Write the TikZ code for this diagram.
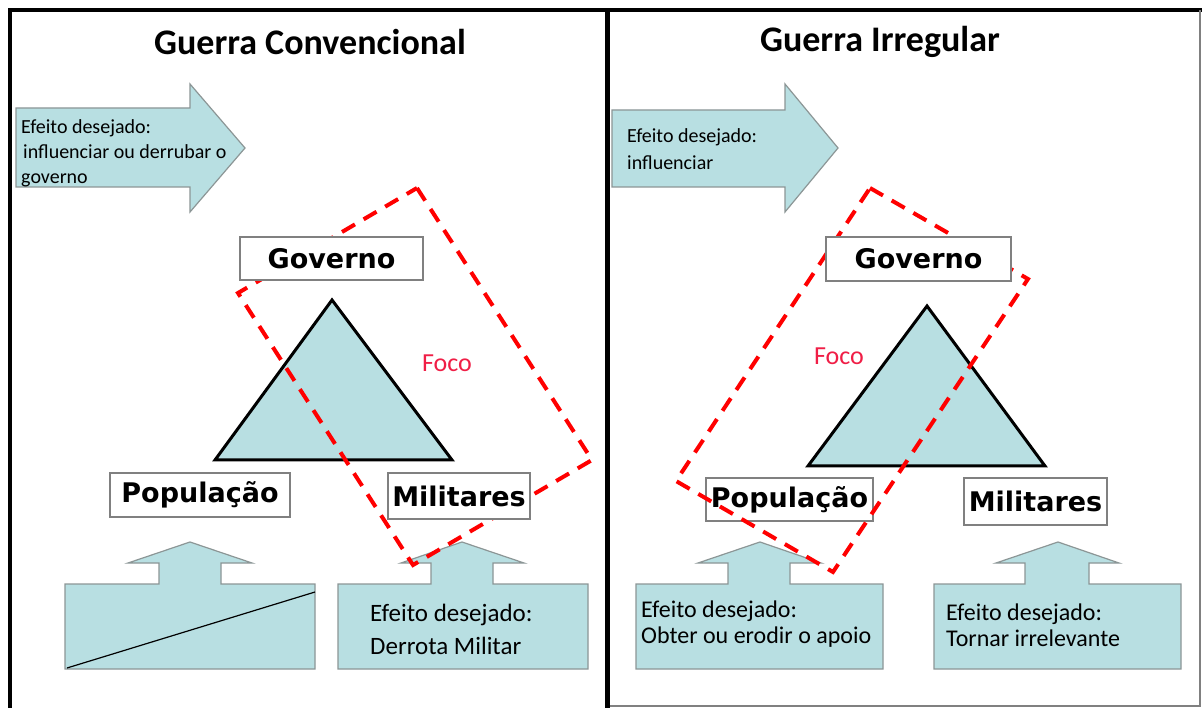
\documentclass[tikz,border=0pt]{standalone}
\usepackage{fontspec}
\setmainfont{Carlito}
\newfontfamily\boxfont{DejaVu Sans}
\definecolor{fillteal}{RGB}{184,223,226}
\definecolor{arrowgray}{RGB}{140,150,150}
\definecolor{boxgray}{RGB}{128,128,128}
\definecolor{focored}{RGB}{240,30,70}
\tikzstyle{actor} = [rectangle, draw=boxgray, line width=1.5pt, fill=white, inner sep=0pt, text centered, font=\boxfont\bfseries\fontsize{27}{30}\selectfont]
\tikzstyle{title} = [anchor=base, inner sep=0pt, font=\bfseries\fontsize{36}{40}\selectfont]
\tikzstyle{blockarrow} = [fill=fillteal, draw=arrowgray, line width=1.2pt]
\tikzstyle{triad} = [fill=fillteal, draw=black, line width=3pt]
\tikzstyle{focus} = [draw=red, line width=4pt, dash pattern=on 15pt off 10pt]
\tikzstyle{effect} = [anchor=west, align=left, inner sep=0pt]
\tikzstyle{focolabel} = [text=focored, font=\fontsize{26}{30}\selectfont]

\begin{document}
\begin{tikzpicture}[x=1pt, y=-1pt]
      \useasboundingbox [fill=white] (0,0) rectangle (1203,708);

      % frames
      \draw [line width=4pt] (10,712) -- (10,10) -- (1202,10);
      \draw [line width=5pt] (607,10) -- (607,712);
      \draw [draw=gray, line width=2pt] (1200,10) -- (1200,706) -- (610,706);

      \node (conv) [title] at (310,55) {Guerra Convencional};
      \node (irreg) [title] at (880,52) {Guerra Irregular};

      % left panel
      \draw [blockarrow] (16,108) -- (190,108) -- (190,84) -- (245,148) -- (190,212) -- (190,187) -- (16,187) -- cycle;
      \node (efeito1) [effect, font=\fontsize{20}{25}\selectfont] at (21,153) {Efeito desejado:\\\hspace*{2pt}influenciar ou derrubar o\\governo};

      \draw [triad] (332,300) -- (452,460) -- (215,460) -- cycle;

      \draw [blockarrow] (65,669) -- (65,584) -- (159,584) -- (159,563) -- (128,563) -- (190,542) -- (252,563) -- (221,563) -- (221,584) -- (315,584) -- (315,669) -- cycle;
      \draw [line width=1.2pt] (67,668) -- (315,592);
      \draw [blockarrow] (338,669) -- (338,584) -- (431,584) -- (431,563) -- (401,563) -- (462,542) -- (524,563) -- (493,563) -- (493,584) -- (588,584) -- (588,669) -- cycle;
      \node (efeito2) [effect, font=\fontsize{25}{33}\selectfont] at (370,629) {Efeito desejado:\\Derrota Militar};

      \draw [focus] (417,188) -- (592,460) -- (413,565) -- (238,293) -- cycle;
      \node (foco1) [focolabel] at (447,363) {Foco};

      \node (gov1) [actor, minimum width=183pt, minimum height=43pt] at (331.5,258.5) {Governo};
      \node (pop1) [actor, minimum width=180pt, minimum height=44pt] at (200,495) {População};
      \node (mil1) [actor, minimum width=142pt, minimum height=46pt] at (459,496) {Militares};

      % right panel
      \draw [blockarrow] (612,110) -- (785,110) -- (785,84) -- (838,148) -- (785,212) -- (785,187) -- (612,187) -- cycle;
      \node (efeito3) [effect, font=\fontsize{20}{27}\selectfont] at (627,149) {Efeito desejado:\\influenciar};

      \draw [triad] (927,306) -- (1045,466) -- (808,466) -- cycle;

      \draw [blockarrow] (636,669) -- (636,584) -- (728,584) -- (728,563) -- (698,563) -- (760,542) -- (821,563) -- (790,563) -- (790,584) -- (883,584) -- (883,669) -- cycle;
      \node (efeito4) [effect, font=\fontsize{24}{26}\selectfont] at (641,624) {Efeito desejado:\\Obter ou erodir o apoio};
      \draw [blockarrow] (934,669) -- (934,584) -- (1025,584) -- (1025,563) -- (996,563) -- (1058,542) -- (1119,563) -- (1089,563) -- (1089,584) -- (1181,584) -- (1181,669) -- cycle;
      \node (efeito5) [effect, font=\fontsize{24}{26}\selectfont] at (946,625) {Efeito desejado:\\Tornar irrelevante};

      \node (pop2) [actor, minimum width=167pt, minimum height=43pt] at (789.5,499.5) {População};
      \node (mil2) [actor, minimum width=143pt, minimum height=47pt] at (1035.5,501.5) {Militares};

      \draw [focus] (870,188) -- (1028,279) -- (833,572) -- (676,481) -- cycle;
      \node (foco2) [focolabel] at (839,356) {Foco};

      \node (gov2) [actor, minimum width=185pt, minimum height=44pt] at (918.5,259) {Governo};
\end{tikzpicture}
\end{document}
